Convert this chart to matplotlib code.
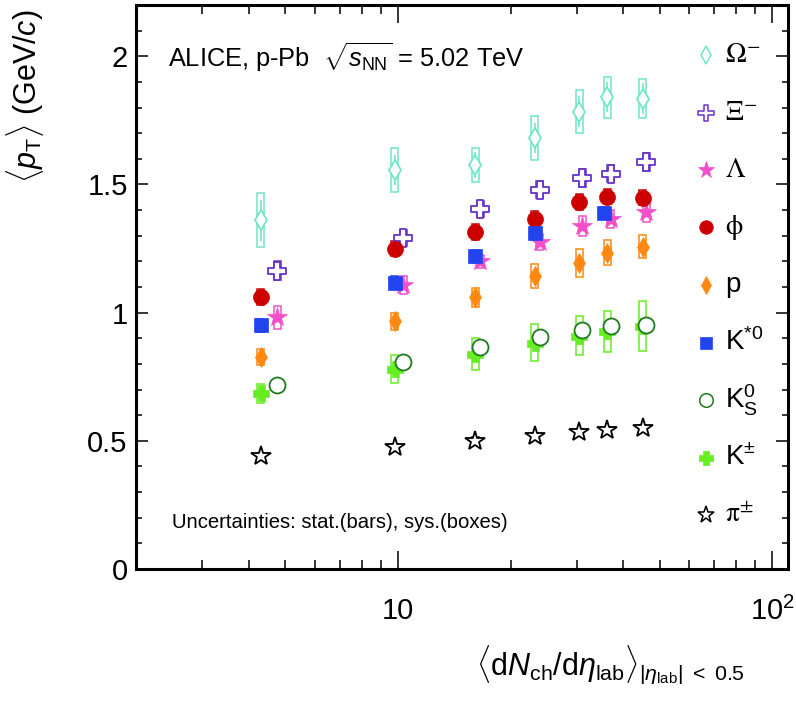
import numpy as np
import matplotlib
matplotlib.use('Agg')
from matplotlib import pyplot as plt
from matplotlib.path import Path
from matplotlib.patches import Rectangle

plt.rcParams['font.family'] = ['Liberation Sans', 'DejaVu Sans']
plt.rcParams['mathtext.fontset'] = 'custom'
plt.rcParams['mathtext.rm'] = 'Liberation Sans'
plt.rcParams['mathtext.it'] = 'Liberation Sans:italic'
plt.rcParams['mathtext.bf'] = 'Liberation Sans:bold'

# multiplicity classes
x_main = [4.3, 9.8, 16.1, 23.2, 30.5, 36.2, 45.0]
x_shift = [4.76, 10.33, 16.6, 23.9, 31.1, 37.0, 46.0]
x_kstar = [4.3, 9.8, 16.1, 23.2, 35.6]

omega = [1.36, 1.556, 1.576, 1.681, 1.784, 1.841, 1.835]
omega_stat = [0.08, 0.06, 0.05, 0.06, 0.06, 0.06, 0.06]
omega_sys = [0.105, 0.085, 0.067, 0.085, 0.083, 0.080, 0.077]

xi = [1.164, 1.292, 1.404, 1.479, 1.526, 1.542, 1.587]
xi_stat = [0.02, 0.015, 0.015, 0.015, 0.015, 0.015, 0.015]
xi_sys = [0.037, 0.031, 0.031, 0.033, 0.034, 0.033, 0.036]

lam = [0.982, 1.107, 1.200, 1.275, 1.337, 1.366, 1.392]
lam_stat = [0.005, 0.004, 0.004, 0.004, 0.004, 0.004, 0.004]
lam_sys = [0.045, 0.036, 0.026, 0.030, 0.040, 0.036, 0.040]

phi = [1.061, 1.250, 1.315, 1.367, 1.431, 1.452, 1.448]
phi_stat = [0.02, 0.015, 0.015, 0.015, 0.015, 0.015, 0.015]
phi_sys = [0.032, 0.03, 0.03, 0.03, 0.03, 0.03, 0.03]

prot = [0.827, 0.966, 1.060, 1.142, 1.194, 1.233, 1.257]
prot_stat = [0.004, 0.004, 0.004, 0.004, 0.004, 0.004, 0.004]
prot_sys = [0.030, 0.033, 0.038, 0.047, 0.055, 0.049, 0.045]

kstar = [0.950, 1.116, 1.220, 1.311, 1.389]
kstar_stat = [0.01, 0.01, 0.01, 0.01, 0.01]
kstar_sys = [0.025, 0.025, 0.025, 0.025, 0.025]

k0s = [0.716, 0.807, 0.865, 0.904, 0.931, 0.947, 0.953]
k0s_stat = [0.003, 0.003, 0.003, 0.003, 0.003, 0.003, 0.003]
k0s_sys = [0.02, 0.02, 0.02, 0.02, 0.02, 0.02, 0.02]

kch = [0.686, 0.780, 0.840, 0.882, 0.910, 0.927, 0.947]
kch_stat = [0.003, 0.003, 0.003, 0.003, 0.003, 0.003, 0.003]
kch_sys = [0.037, 0.053, 0.063, 0.072, 0.076, 0.081, 0.098]

pion = [0.439, 0.475, 0.501, 0.517, 0.536, 0.543, 0.550]
pion_stat = [0.002, 0.002, 0.002, 0.002, 0.002, 0.002, 0.002]
pion_sys = [0.012, 0.012, 0.012, 0.012, 0.012, 0.012, 0.012]


def cross_path(a):
    return Path([(-a, 1), (a, 1), (a, a), (1, a), (1, -a), (a, -a), (a, -1), (-a, -1),
                 (-a, -a), (-1, -a), (-1, a), (-a, a), (-a, 1)], closed=True)


open_cross = cross_path(0.32)
full_cross = cross_path(0.42)

# label, x, y, stat, sys, color, marker, size, filled, mathfont
series = [
    (r'$\Omega^{-}$', x_main, omega, omega_stat, omega_sys, '#70e6c8', 'd', 10.5, False, 'stix'),
    (r'$\Xi^{-}$', x_shift, xi, xi_stat, xi_sys, '#6633cc', open_cross, 13, False, 'stix'),
    (r'$\Lambda$', x_shift, lam, lam_stat, lam_sys, '#f24fc8', '*', 15, True, 'stix'),
    (r'$\mathrm{\phi}$', x_main, phi, phi_stat, phi_sys, '#cc0000', 'o', 11.5, True, 'stix'),
    ('p', x_main, prot, prot_stat, prot_sys, '#ff8811', 'd', 10.5, True, None),
    (r'K$^{*0}$', x_kstar, kstar, kstar_stat, kstar_sys, '#2244ee', 's', 10, True, None),
    (r'K$^{\pm}$', x_main, kch, kch_stat, kch_sys, '#66ee22', full_cross, 12, True, None),
    (r'K$^{0}_{\mathrm{S}}$', x_shift, k0s, k0s_stat, k0s_sys, '#1f7a1f', 'o', 11.5, False, None),
    (r'$\mathrm{\pi}^{\pm}$', x_main, pion, pion_stat, pion_sys, '#000000', '*', 15, False, 'stix'),
]
legend_order = [0, 1, 2, 3, 4, 5, 7, 6, 8]

fig = plt.figure(figsize=(7.96, 7.08), dpi=100)
ax = fig.add_axes([136 / 796, 139 / 708, 652 / 796, 564 / 708])
ax.set_xscale('log')
ax.set_xlim(2, 110)
ax.set_ylim(0, 2.2)

hw = 0.0095  # half box width in log10 units
for label, x, y, stat, sys, color, marker, ms, filled, mf in series:
    x = np.array(x)
    y = np.array(y)
    for xi_, yi_, si_ in zip(x, y, sys):
        ax.add_patch(Rectangle((xi_ * 10 ** -hw, yi_ - si_), xi_ * (10 ** hw - 10 ** -hw), 2 * si_,
                               fill=False, ec=color, lw=1.1, zorder=2))
    ax.errorbar(x, y, yerr=stat, fmt='none', ecolor=color, elinewidth=1.2, zorder=2)
    ax.plot(x, y, linestyle='none', marker=marker, ms=ms,
            mfc=color if filled else 'white', mec=color, mew=1.3 if not filled else 0.5,
            zorder=3)

# legend drawn by hand, ROOT style column
for i, k in enumerate(legend_order):
    label, x, y, stat, sys, color, marker, ms, filled, mf = series[k]
    yy = (569 - (55 + 57.5 * i)) / 564
    ax.plot([0.874], [yy], transform=ax.transAxes, linestyle='none', marker=marker,
            ms=ms * 0.85, mfc=color if filled else 'white', mec=color,
            mew=1.1 if not filled else 0.5, clip_on=False, zorder=4)
    kw = {'math_fontfamily': mf} if mf else {}
    ax.text(0.903, yy, label, transform=ax.transAxes, fontsize=20, va='center', ha='left', **kw)

ax.text(0.049, 0.907, r'ALICE, p-Pb  $\sqrt{s_{\mathrm{NN}}}$ = 5.02 TeV', transform=ax.transAxes,
        fontsize=18.3, va='center', ha='left')
ax.text(0.055, 0.083, 'Uncertainties: stat.(bars), sys.(boxes)', transform=ax.transAxes,
        fontsize=14.6, va='center', ha='left')

ax.set_xticks([10, 100])
ax.set_xticklabels(['10', r'$10^{2}$'])
ax.set_xticks([2, 3, 4, 5, 6, 7, 8, 9, 20, 30, 40, 50, 60, 70, 80, 90], minor=True)
ax.set_xticklabels([], minor=True)
ax.set_yticks([0, 0.5, 1, 1.5, 2])
ax.set_yticklabels(['0', '0.5', '1', '1.5', '2'])
ax.set_yticks(np.arange(0, 2.21, 0.1), minor=True)

for sp in ax.spines.values():
    sp.set_linewidth(2.2)
ax.tick_params(which='both', direction='in', top=True, right=True, width=1.1, labelsize=21)
ax.tick_params(axis='x', which='major', length=13, pad=20)
ax.tick_params(axis='x', which='minor', length=6.5)
ax.tick_params(axis='y', which='major', length=8.6, pad=6)
ax.tick_params(axis='y', which='minor', length=4.3)

fig.text(25 / 796, 1 - 10 / 708, r'$\langle p_{\mathrm{T}}\rangle$ (GeV/$c$)', rotation=90,
         fontsize=22, ha='center', va='top')
fig.text(745 / 796, 1 - 665 / 708,
         r'$\langle\mathrm{d}N_{\mathrm{ch}}/\mathrm{d}\eta_{\mathrm{lab}}\rangle_{|\eta_{\mathrm{lab}}|\ <\ 0.5}$',
         fontsize=22, ha='right', va='center')

fig.savefig('out.png', dpi=100)
